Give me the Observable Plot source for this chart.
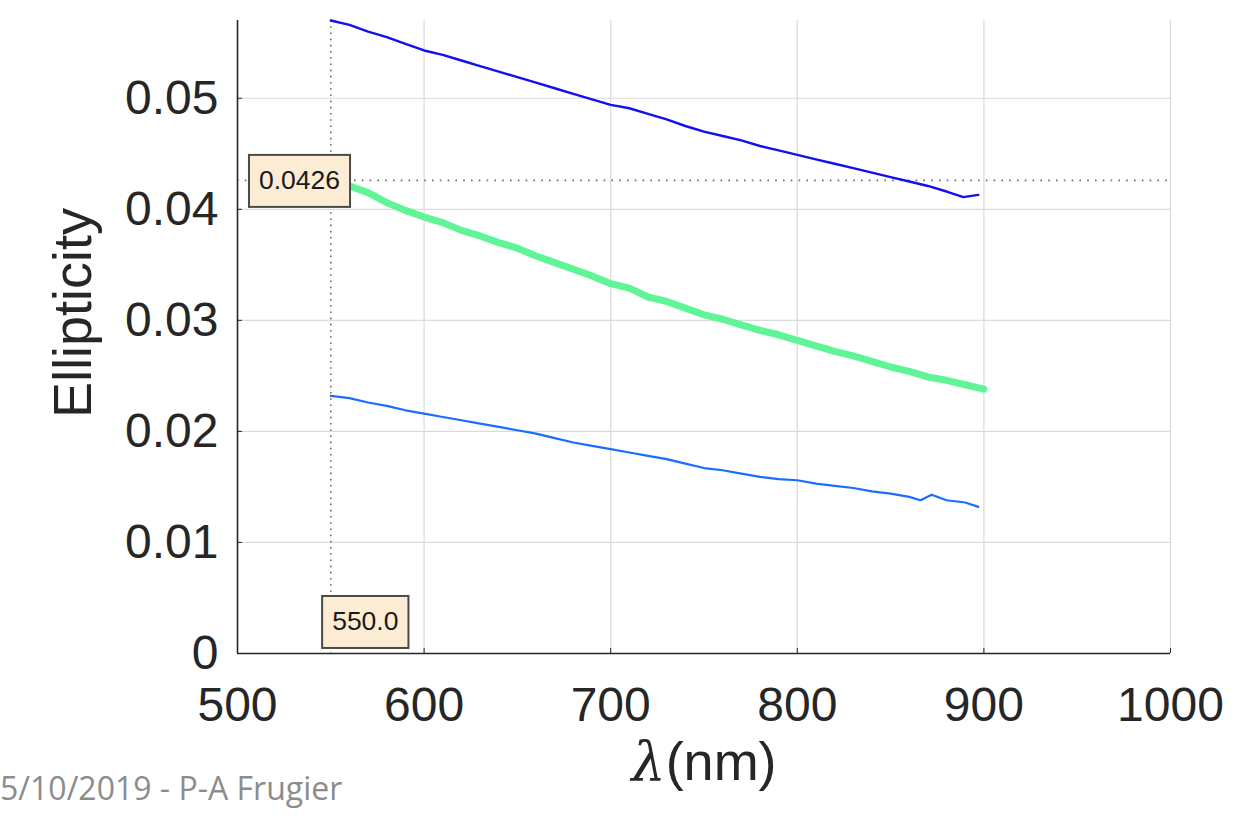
<!DOCTYPE html>
<html>
<head>
<meta charset="utf-8">
<script src="https://cdn.jsdelivr.net/npm/d3@7"></script>
<script src="https://cdn.jsdelivr.net/npm/@observablehq/plot@0.6"></script>
<style>
  html, body { margin: 0; padding: 0; background: #fff; overflow: hidden; }
  #wrap { position: relative; width: 1260px; height: 819px; }
  #caption {
    position: absolute; left: 0px; top: 772px;
    font-family: "Open Sans", sans-serif; font-size: 32px; line-height: 32px;
    color: #8c8c8c; white-space: nowrap;
  }
</style>
</head>
<body>
<div id="wrap">
  <div id="chart"></div>
  <div id="caption">5/10/2019 - P-A Frugier</div>
</div>
<script>
// Ellipticity vs wavelength, three measurement series
const lambdaDark = [550, 560, 570, 580, 590, 600, 610, 620, 630, 640, 650, 660, 670, 680, 690, 700,
  710, 720, 730, 740, 750, 760, 770, 780, 790, 800, 810, 820, 830, 840, 850, 860, 870, 880, 889, 897];
const ellipDark = [0.0570, 0.0566, 0.0560, 0.0555, 0.0549, 0.0543, 0.0539, 0.0534, 0.0529, 0.0524,
  0.0519, 0.0514, 0.0509, 0.0504, 0.0499, 0.0494, 0.0491, 0.0486, 0.0481, 0.0475, 0.0470, 0.0466,
  0.0462, 0.0457, 0.0453, 0.0449, 0.0445, 0.0441, 0.0437, 0.0433, 0.0429, 0.0425, 0.0421, 0.0416,
  0.0411, 0.0413];

const lambdaGreen = [550, 560, 570, 580, 590, 600, 610, 620, 630, 640, 650, 660, 670, 680, 690, 700,
  710, 720, 730, 740, 750, 760, 770, 780, 790, 800, 810, 820, 830, 840, 850, 860, 870, 880, 890, 900];
const ellipGreen = [0.0426, 0.0421, 0.0415, 0.0406, 0.0399, 0.0393, 0.0388, 0.0381, 0.0376, 0.0370,
  0.0365, 0.0358, 0.0352, 0.0346, 0.0340, 0.0333, 0.0329, 0.0321, 0.0317, 0.0311, 0.0305, 0.0301,
  0.0296, 0.0291, 0.0287, 0.0282, 0.0277, 0.0272, 0.0268, 0.0263, 0.0258, 0.0254, 0.0249, 0.0246,
  0.0242, 0.0238];

const lambdaLight = [550, 560, 570, 580, 590, 600, 610, 620, 630, 640, 650, 660, 670, 680, 690, 700,
  710, 720, 730, 740, 750, 760, 770, 780, 790, 800, 810, 820, 830, 840, 850, 860, 866, 872, 880, 890, 897];
const ellipLight = [0.0232, 0.0230, 0.0226, 0.0223, 0.0219, 0.0216, 0.0213, 0.0210, 0.0207, 0.0204,
  0.0201, 0.0198, 0.0194, 0.0190, 0.0187, 0.0184, 0.0181, 0.0178, 0.0175, 0.0171, 0.0167, 0.0165,
  0.0162, 0.0159, 0.0157, 0.0156, 0.0153, 0.0151, 0.0149, 0.0146, 0.0144, 0.0141, 0.0138, 0.0143,
  0.0138, 0.0136, 0.0132];

// Axis ticks and their labels
const xTicks = [500, 600, 700, 800, 900, 1000];
const xTickLabels = ["500", "600", "700", "800", "900", "1000"];
const yTicks = [0, 0.01, 0.02, 0.03, 0.04, 0.05];
const yTickLabels = ["0", "0.01", "0.02", "0.03", "0.04", "0.05"];

// Data cursor position
const cursorX = [550.0];
const cursorY = [0.0426];

const ink = "#262626";
const gridColor = "#dadada";
const dotted = "#6a6a6a";

const chart = Plot.plot({
  width: 1260,
  height: 819,
  marginLeft: 237,
  marginRight: 90,
  marginTop: 20,
  marginBottom: 166,
  style: { fontFamily: "'Liberation Sans', Arial, sans-serif", background: "#fff", color: ink },
  x: { domain: [500, 1000] },
  y: { domain: [0, 0.057] },
  marks: [
    // grid
    Plot.gridX(xTicks.slice(1), { stroke: gridColor, strokeOpacity: 1, strokeWidth: 1.2 }),
    Plot.gridY(yTicks.slice(1), { stroke: gridColor, strokeOpacity: 1, strokeWidth: 1.2 }),

    // data cursor cross-hair
    Plot.ruleX(cursorX, { stroke: dotted, strokeWidth: 1.6, strokeDasharray: "1.6,4.6" }),
    Plot.ruleY(cursorY, { stroke: dotted, strokeWidth: 1.6, strokeDasharray: "1.6,6.2" }),

    // series
    Plot.line(ellipLight, { x: lambdaLight, y: d => d, stroke: "#1a6dff", strokeWidth: 2.2, strokeLinejoin: "round" }),
    Plot.line(ellipGreen, { x: lambdaGreen, y: d => d, stroke: "#5ff597", strokeWidth: 7, strokeLinejoin: "round" }),
    Plot.line(ellipDark, { x: lambdaDark, y: d => d, stroke: "#1010f0", strokeWidth: 2.4, strokeLinejoin: "round" }),

    // axis lines
    Plot.ruleX([500], { stroke: ink, strokeWidth: 1.6 }),
    Plot.ruleY([0], { stroke: ink, strokeWidth: 1.6 }),

    // inward tick marks
    Plot.axisX(xTicks, { tickSize: 5, dy: -5, tickFormat: () => "", label: null, stroke: ink }),
    Plot.axisY(yTicks, { tickSize: 5, dx: 5, tickFormat: () => "", label: null, stroke: ink }),

    // tick labels
    Plot.axisX(xTicks, { tickSize: 0, tickPadding: 33, fontSize: 48, fill: ink,
      tickFormat: (d, i) => xTickLabels[i], label: null }),
    Plot.axisY(yTicks, { tickSize: 0, tickPadding: 19, fontSize: 48, fill: ink,
      tickFormat: (d, i) => yTickLabels[i], label: null }),

    // axis titles
    Plot.text(["Ellipticity"], { frameAnchor: "left", rotate: -90, dx: -164, dy: -24,
      fontSize: 54, lineAnchor: "middle", textAnchor: "middle", fill: ink }),
    Plot.text(["λ(nm)"], { frameAnchor: "bottom", dy: 109, fontSize: 54,
      lineAnchor: "middle", textAnchor: "middle", fill: ink, className: "xtitle" }),

    // cursor read-outs
    Plot.text(cursorY, { y: d => d, frameAnchor: "left", dx: 62, text: d => d.toFixed(4),
      fontSize: 26.5, lineAnchor: "middle", textAnchor: "middle", fill: "#1a1a1a", className: "readout" }),
    Plot.text(cursorX, { x: d => d, frameAnchor: "bottom", dx: 34.5, dy: -32, text: d => d.toFixed(1),
      fontSize: 26.5, lineAnchor: "middle", textAnchor: "middle", fill: "#1a1a1a", className: "readout" })
  ]
});

document.getElementById("chart").appendChild(chart);

// Boxes behind the cursor read-outs
d3.select(chart).selectAll("g.readout text").each(function () {
  const bb = this.getBBox();
  const padX = 10, boxH = 52;
  const cy = bb.y + bb.height / 2 + 1;
  d3.select(this.parentNode).insert("rect", () => this)
    .attr("transform", this.getAttribute("transform"))
    .attr("x", bb.x - padX)
    .attr("y", cy - boxH / 2)
    .attr("width", bb.width + 2 * padX)
    .attr("height", boxH)
    .attr("fill", "#fdecd4")
    .attr("stroke", "#4a4a4a")
    .attr("stroke-width", 2);
});

// Greek lambda set in italic serif
d3.select(chart).selectAll("g.xtitle text").each(function () {
  const t = d3.select(this);
  t.text(null);
  t.append("tspan").attr("font-family", "'DejaVu Serif', serif").attr("font-style", "italic").text("λ");
  t.append("tspan").text("(nm)");
});
</script>
</body>
</html>
